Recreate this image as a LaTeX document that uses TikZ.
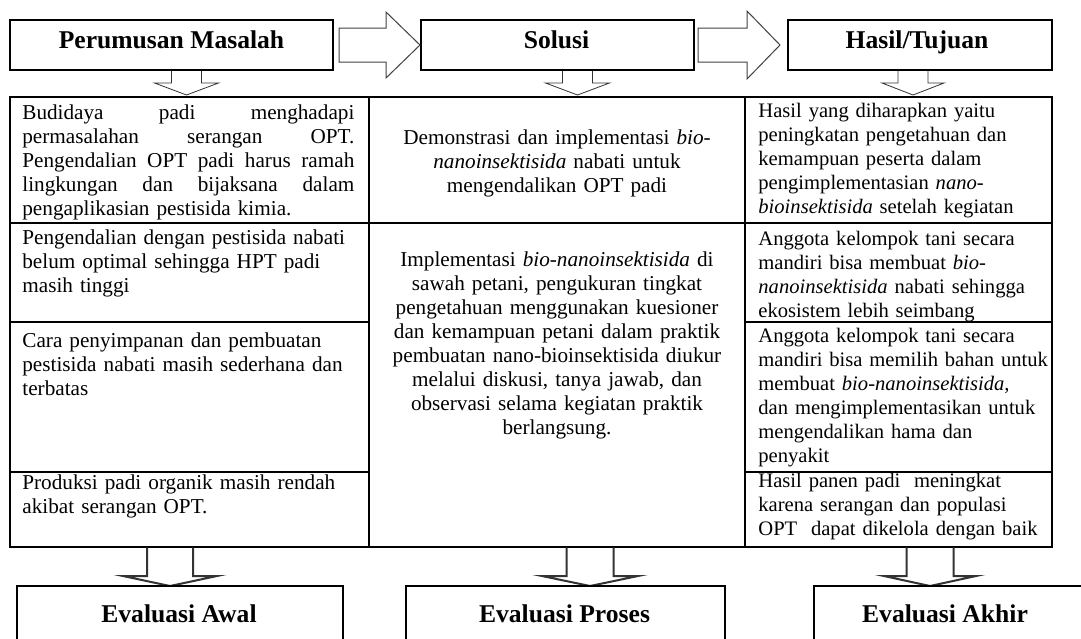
\documentclass[tikz,border=0pt]{standalone}
\usepackage{fontspec}
\setmainfont{Liberation Serif}
\usetikzlibrary{calc, positioning, fit}
\newcommand{\bodyfont}{\fontsize{10.6pt}{12pt}\selectfont\hyphenpenalty=10000}
\newcommand{\rightfont}{\fontsize{10.3pt}{12pt}\selectfont\hyphenpenalty=10000}
\newcommand{\headfont}{\fontsize{12.8pt}{15pt}\selectfont\bfseries}
% hollow arrow pointing down: #2 top centre, #3 shaft half width,
% #4 head half width, #5 shaft length, #6 head length
\newcommand{\downblock}[6][thin]{%
	\draw[blockline, #1] ($#2+(-#3,0)$) -- ++(0,#5) -- ++({#3-#4},0)
	-- ++(#4,#6) -- ++(#4,-#6) -- ++({#3-#4},0) -- ++(0,-#5);}

\begin{document}
\begin{tikzpicture}[x=0.5pt, y=-0.5pt,
		headbox/.style={draw, line width=1pt, inner sep=0pt},
		headtxt/.style={inner sep=0pt, font=\headfont, anchor=base},
		cellbox/.style={draw, line width=1pt, inner sep=0pt},
		celltxt/.style={inner sep=0pt, font=\bodyfont, align=left,
			anchor=base west},
		midtxt/.style={inner sep=0pt, font=\bodyfont, align=center,
			anchor=base, text width=178pt},
		blockline/.style={black!80, line cap=round, line join=miter},
		blockarr/.style={black!75, line width=0.5pt}
		]
		\clip (0,0) rectangle (1081,638);
		% top row
		\node[headbox, fit={(10,20)(333,70)}] (pm) {};
		\node[headbox, fit={(421,20)(694,70)}] (sol) {};
		\node[headbox, fit={(788,20)(1052,70)}] (hsl) {};
		\node[headtxt] (pmt) at ($(pm.center)+(0,3)$) {Perumusan Masalah};
		\node[headtxt] (solt) at ($(sol.center)+(-1,3)$) {Solusi};
		\node[headtxt] (hslt) at ($(hsl.center)+(-3,3)$) {Hasil/Tujuan};
		\draw[blockarr] ($(pm.east)+(5,-17)$) -- ($(sol.west)+(-34,-17)$)
		-- ($(sol.west)+(-34,-33)$) -- (sol.west) -- ($(sol.west)+(-34,33)$)
		-- ($(sol.west)+(-34,17)$) -- ($(pm.east)+(5,17)$) -- cycle;
		\draw[blockarr] ($(sol.east)+(3,-17)$) -- ($(hsl.west)+(-40,-17)$)
		-- ($(hsl.west)+(-40,-34)$) -- ($(hsl.west)+(-7,0)$) -- ($(hsl.west)+(-40,34)$)
		-- ($(hsl.west)+(-40,17)$) -- ($(sol.east)+(3,17)$) -- cycle;
		\coordinate (pmd) at ($(pm.south)+(15,0)$);
		\coordinate (sold) at ($(sol.south)+(20,0)$);
		\coordinate (hsld) at ($(hsl.south)+(-7,0)$);
		\downblock{(pmd)}{15}{32}{12}{12}
		\downblock{(sold)}{15}{32}{12}{12}
		\downblock{(hsld)}{15}{31}{12}{12}
		
		% table cells
		\node[cellbox, fit={(10,97)(369,223)}] (l1) {};
		\node[cellbox, fit={(10,223)(369,322)}] (l2) {};
		\node[cellbox, fit={(10,322)(369,472)}] (l3) {};
		\node[cellbox, fit={(10,472)(369,547)}] (l4) {};
		\node[cellbox, fit={(369,97)(745,223)}] (m1) {};
		\node[cellbox, fit={(369,223)(745,547)}] (m2) {};
		\node[cellbox, fit={(745,97)(1052,223)}] (r1) {};
		\node[cellbox, fit={(745,223)(1052,322)}] (r2) {};
		\node[cellbox, fit={(745,322)(1052,472)}] (r3) {};
		\node[cellbox, fit={(745,472)(1052,547)}] (r4) {};
		
		\node[celltxt, text width=166pt] (l1t) at ($(l1.north west)+(13,23)$)
		{Budidaya \hfill padi \hfill menghadapi\\
			permasalahan \hfill serangan \hfill OPT.\\
			Pengendalian \hfill OPT \hfill padi \hfill harus \hfill ramah\\
			lingkungan \hfill dan \hfill bijaksana \hfill dalam\\
			pengaplikasian pestisida kimia.};
		\node[celltxt, text width=170pt] (l2t) at ($(l2.north west)+(13,22)$)
		{Pengendalian dengan pestisida nabati\\
			belum optimal sehingga HPT padi\\
			masih tinggi};
		\node[celltxt, text width=170pt] (l3t) at ($(l3.north west)+(13,26)$)
		{Cara penyimpanan dan pembuatan\\
			pestisida nabati masih sederhana dan\\
			terbatas};
		\node[celltxt, text width=170pt] (l4t) at ($(l4.north west)+(13,18)$)
		{Produksi padi organik masih rendah\\
			akibat serangan OPT.};
		
		\node[midtxt] (m1t) at ($(m1.north)+(0,48)$)
		{Demonstrasi dan implementasi \textit{bio-}\\
			\textit{nanoinsektisida} nabati untuk\\
			mengendalikan OPT padi};
		\node[midtxt] (m2t) at ($(m2.north)+(0,44)$)
		{Implementasi \textit{bio-nanoinsektisida} di\\
			sawah petani, pengukuran tingkat\\
			pengetahuan menggunakan kuesioner\\
			dan kemampuan petani dalam praktik\\
			pembuatan nano-bioinsektisida diukur\\
			melalui diskusi, tanya jawab, dan\\
			observasi selama kegiatan praktik\\
			berlangsung.};
		
		\node[celltxt, font=\rightfont, text width=148pt] (r1t) at ($(r1.north west)+(14,21)$)
		{Hasil yang diharapkan yaitu\\
			peningkatan pengetahuan dan\\
			kemampuan peserta dalam\\
			pengimplementasian \textit{nano-}\\
			\textit{bioinsektisida} setelah kegiatan};
		\node[celltxt, font=\rightfont, text width=148pt] (r2t) at ($(r2.north west)+(14,23)$)
		{Anggota kelompok tani secara\\
			mandiri bisa membuat \textit{bio-}\\
			\textit{nanoinsektisida} nabati sehingga\\
			ekosistem lebih seimbang};
		\node[celltxt, font=\rightfont, text width=148pt] (r3t) at ($(r3.north west)+(14,21)$)
		{Anggota kelompok tani secara\\
			mandiri bisa memilih bahan untuk\\
			membuat \textit{bio-nanoinsektisida},\\
			dan mengimplementasikan untuk\\
			mengendalikan hama dan\\
			penyakit};
		\node[celltxt, font=\rightfont, text width=148pt] (r4t) at ($(r4.north west)+(14,16)$)
		{Hasil panen padi\ \ meningkat\\
			karena serangan dan populasi\\
			OPT\ \ dapat dikelola dengan baik};
		
		% evaluation row
		\coordinate (ead) at ($(l4.south west)+(161,0)$);
		\coordinate (prd) at ($(m2.south west)+(222,0)$);
		\coordinate (akd) at ($(r4.south west)+(186,0)$);
		\downblock[line width=1pt]{(ead)}{23}{47}{28}{10}
		\downblock[line width=1pt]{(prd)}{23.5}{48}{28}{10}
		\downblock[line width=1pt]{(akd)}{23.5}{46}{28}{10}
		\node[headbox, fit={(17,586)(343,660)}] (ea) {};
		\node[headbox, fit={(406,586)(725,660)}] (pr) {};
		\node[headbox, fit={(814,586)(1084,660)}] (ak) {};
		\node[headtxt] (eat) at ($(ea.north)+(-1,37)$) {Evaluasi Awal};
		\node[headtxt] (prt) at ($(pr.north)+(-1,37)$) {Evaluasi Proses};
		\node[headtxt] (akt) at ($(ak.north)+(-4,37)$) {Evaluasi Akhir};
\end{tikzpicture}
\end{document}
